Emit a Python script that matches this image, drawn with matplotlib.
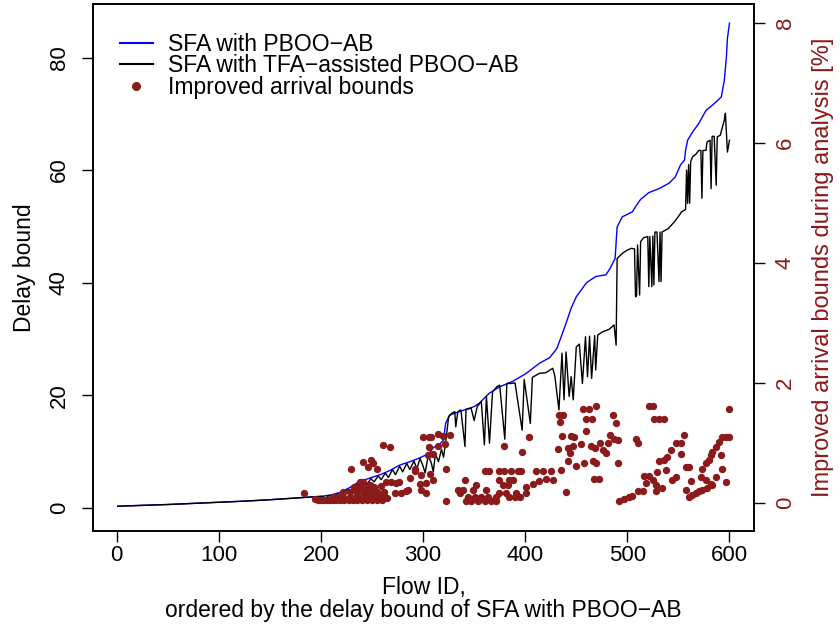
import matplotlib
matplotlib.use("Agg")
import matplotlib.pyplot as plt
from matplotlib.lines import Line2D

plt.rcParams['font.family'] = ['Liberation Sans', 'DejaVu Sans']

RED = '#8B1A1A'

# ==== DATA ====
# SFA with PBOO-AB (sorted delay bound)
blue_x = [1, 25, 50, 75, 100, 125, 150, 175, 200, 210, 218, 228, 238, 248, 258,
          267, 277, 287, 297, 306, 310, 316, 320, 322, 326, 334, 342, 350, 355,
          360, 365, 375, 388, 401, 414, 424, 431, 440, 445, 450, 460, 469, 479,
          483, 488, 490, 495, 505, 508, 513, 521, 531, 541, 547, 552, 556, 557,
          559, 564, 570, 577, 585, 592, 595, 597, 598, 600]
blue_y = [0.3, 0.45, 0.6, 0.8, 1.0, 1.2, 1.45, 1.75, 2.05, 2.3, 2.7, 3.6, 4.7,
          5.3, 5.9, 6.6, 7.6, 8.2, 8.9, 9.7, 10.7, 11.3, 12.0, 15.0, 16.5, 17.0,
          17.5, 18.0, 18.6, 19.5, 20.4, 21.5, 22.5, 23.9, 25.7, 26.7, 28.3, 32.8,
          35.5, 37.5, 40.0, 41.1, 41.4, 42.5, 44.3, 49.9, 51.7, 52.6, 53.5, 54.8,
          56.0, 56.7, 57.7, 58.8, 60.9, 61.8, 63.5, 65.3, 66.8, 68.3, 70.6, 71.8,
          73.0, 76.0, 80.1, 83.4, 86.1]

# SFA with TFA-assisted PBOO-AB, (flow, delay bound)
black = [(1, 0.3), (25, 0.45), (50, 0.6), (75, 0.8), (100, 1.0), (125, 1.2),
         (150, 1.45), (175, 1.75), (200, 2.05), (205, 1.8), (208, 2.2), (212, 1.9),
         (216, 2.6), (220, 2.2), (224, 3.0), (228, 3.3), (231, 2.6), (235, 4.2),
         (238, 3.6), (242, 4.8), (245, 4.2), (249, 5.2), (252, 4.6), (256, 5.7),
         (259, 5.0), (263, 6.2), (266, 5.4), (270, 6.8), (273, 5.9), (277, 7.4),
         (280, 6.4), (284, 7.9), (287, 6.8), (291, 8.3), (294, 7.0), (297, 8.8),
         (300, 7.4), (302, 6.2), (305, 9.3), (308, 8.0), (310, 6.4), (312, 9.6),
         (315, 8.2), (318, 10.4), (320, 9.0), (322, 11.5), (325, 16.2), (328, 16.8),
         (331, 17.1), (332, 14.4), (334, 17.1), (337, 17.4), (341, 10.9), (342, 17.5),
         (347, 17.7), (350, 15.5), (353, 18.0), (357, 18.9), (360, 11.2), (362, 19.8),
         (365, 11.5), (368, 20.6), (372, 21.5), (375, 21.8), (380, 12.2), (382, 22.1),
         (386, 22.1), (390, 22.2), (397, 13.8), (399, 22.8), (405, 15.0), (407, 23.2),
         (414, 23.9), (420, 24.0), (427, 24.8), (429, 23.4), (433, 17.4), (436, 27.5),
         (438, 19.2), (440, 27.7), (443, 19.8), (445, 23.3), (447, 19.2), (450, 28.6),
         (453, 29.1), (456, 22.1), (459, 30.4), (461, 23.3), (463, 30.5), (465, 23.0),
         (468, 30.6), (469, 24.5), (471, 30.7), (476, 31.3), (482, 31.7), (487, 32.5),
         (489, 28.9), (490, 44.3), (495, 45.2), (500, 45.8), (504, 46.1), (507, 46.0),
         (508, 37.5), (509, 37.7), (510, 46.7), (512, 37.8), (513, 47.3), (516, 48.0),
         (520, 48.2), (521, 39.3), (522, 48.2), (524, 39.3), (525, 48.3), (526, 39.6),
         (527, 49.0), (529, 49.0), (531, 40.2), (532, 49.0), (533, 40.2), (534, 49.0),
         (536, 49.2), (540, 49.6), (546, 50.8), (551, 52.0), (553, 52.6), (557, 53.0),
         (558, 60.0), (559, 54.1), (560, 61.0), (561, 54.1), (562, 61.5), (564, 62.4),
         (567, 62.8), (570, 63.5), (572, 63.5), (573, 55.0), (574, 63.5), (577, 63.5),
         (578, 65.0), (581, 65.3), (582, 56.7), (583, 66.0), (585, 66.0), (587, 57.3),
         (588, 65.9), (591, 66.2), (595, 68.9), (596, 70.1), (598, 63.2), (600, 65.3)]

# Improved arrival bounds during analysis [%], (flow, percent)
points = [
    (183, 0.17), (194, 0.06),
    (197, 0.04), (200, 0.04), (203, 0.04), (206, 0.04), (209, 0.04), (212, 0.04),
    (215, 0.04), (219, 0.04), (223, 0.04), (227, 0.04), (231, 0.04), (235, 0.04),
    (240, 0.04), (245, 0.04), (250, 0.04), (255, 0.04), (260, 0.04), (265, 0.08),
    (212, 0.10), (217, 0.10), (222, 0.10), (228, 0.10), (234, 0.10), (240, 0.10),
    (246, 0.10), (252, 0.10), (258, 0.10), (263, 0.10),
    (222, 0.18), (228, 0.18), (235, 0.18), (242, 0.18), (248, 0.18), (255, 0.18),
    (262, 0.18), (232, 0.26), (238, 0.26), (245, 0.26), (252, 0.26),
    (238, 0.35), (241, 0.35), (247.8, 0.29), (259.1, 0.28), (264, 0.35), (269, 0.35),
    (273, 0.33), (276, 0.34),
    (229, 0.56), (241, 0.68), (249, 0.72), (251, 0.66), (246, 0.60), (255, 0.56),
    (261, 0.96), (268, 0.93), (272, 0.17), (278.7, 0.17), (285, 0.21), (287, 0.41),
    (300, 1.09), (306, 1.09), (306, 0.93), (297, 0.32), (303, 0.17), (292, 0.53),
    (283.6, 0.20), (291.8, 0.57), (298.2, 0.46), (303.1, 0.33), (306.3, 0.48),
    (304.7, 0.79), (298.2, 0.21),
    (308.0, 1.09), (314.6, 1.15), (319.4, 1.11), (326.0, 1.13),
    (314.6, 0.95), (321.1, 0.98), (309.7, 0.81),
    (322.7, 0.56), (309.7, 0.38), (322.7, 0.03),
    (360.2, 0.53), (365, 0.53), (374.8, 0.53), (379.7, 0.53), (386.2, 0.53),
    (392.7, 0.53), (396, 0.53),
    (340.6, 0.38), (374.8, 0.38), (384.6, 0.38), (387.8, 0.38),
    (352, 0.30), (378, 0.30), (383, 0.30),
    (334, 0.21), (339, 0.21), (348.8, 0.21), (361.8, 0.21),
    (335.7, 0.16), (374.8, 0.16), (381.3, 0.16), (391.1, 0.16), (400.9, 0.16),
    (343.9, 0.10), (350.4, 0.10), (356.9, 0.10), (363.4, 0.10), (371.6, 0.10),
    (384.6, 0.10), (389.5, 0.10), (394.4, 0.10),
    (342.2, 0.03), (347.1, 0.03), (353.6, 0.03), (360.2, 0.03), (366.7, 0.03),
    (371.6, 0.03),
    (379.7, 0.95), (397, 0.85), (404.1, 1.10),
    (400.9, 0.27), (407.4, 0.32), (413.9, 0.37), (420.4, 0.39), (426.9, 0.38),
    (410.7, 0.53), (417.2, 0.53), (425.3, 0.53), (435.1, 0.55), (440, 0.18),
    (432.8, 1.46), (437.4, 1.46), (434, 1.35), (456.2, 1.56), (462.8, 1.56),
    (469.3, 1.62), (459.5, 1.39), (465.4, 1.39), (459.5, 1.19), (436, 1.12),
    (444.9, 1.12), (448, 1.10),
    (431.8, 0.89), (441.6, 0.91), (446.5, 0.95), (454.6, 0.98), (443.9, 0.83),
    (464.4, 0.94), (468.6, 0.92), (473.5, 0.99), (475.8, 0.88), (480.7, 0.99),
    (483, 1.13), (487.2, 1.07), (490.5, 1.05),
    (469.3, 0.66), (479, 0.83), (485.6, 1.46), (488.8, 1.33), (449.7, 0.61),
    (457.9, 0.67), (466.0, 0.70), (441.6, 0.70), (490.5, 0.66), (467.7, 0.39),
    (472.5, 0.39),
    (492, 0.03), (497, 0.07), (502, 0.10), (505, 0.11), (510, 0.20), (515, 0.20),
    (508, 1.06), (510, 1.00),
    (521.4, 1.61), (524.7, 1.61), (526, 1.39), (531, 1.39), (536, 1.39),
    (516.5, 0.45), (521.4, 0.45), (524.7, 0.38), (518, 0.33), (528, 0.30),
    (528, 0.20), (534.4, 0.24),
    (531.2, 0.70), (536.1, 0.72), (539.3, 0.76), (542.6, 0.88), (547.5, 0.99),
    (552.3, 1.00), (555.6, 1.13), (552.3, 0.82),
    (537.7, 0.55), (529.5, 0.52), (544.2, 0.38), (547.5, 0.43), (557.9, 0.60),
    (560.5, 0.59), (562.1, 0.37), (557.2, 0.22),
    (560.5, 0.10), (563.7, 0.13), (567, 0.16), (570.3, 0.19), (573.5, 0.21),
    (578.4, 0.24), (583.3, 0.30),
    (573.5, 0.57), (576.8, 0.67), (580, 0.71), (581.7, 0.80), (583.3, 0.84),
    (586.5, 0.93), (589.8, 1.02), (593.1, 1.10), (596.3, 1.09), (599.6, 1.09),
    (591.4, 0.80), (593.1, 0.57), (596.3, 0.35), (586.5, 0.43), (599.6, 1.57),
    (571.9, 0.43), (576.8, 0.38), (581.7, 0.32)]

legend_labels = ['SFA with PBOO\u2212AB', 'SFA with TFA\u2212assisted PBOO\u2212AB',
                 'Improved arrival bounds']

black_x = [p[0] for p in black]
black_y = [p[1] for p in black]
pts_x = [p[0] for p in points]
pts_y = [p[1] for p in points]

# ==== FIGURE ====
fig = plt.figure(figsize=(8.4, 6.28), dpi=100)
ax = fig.add_axes([0.111, 0.1545, 0.7866, 0.8391])

ax.plot(blue_x, blue_y, color='blue', lw=1)
ax.plot(black_x, black_y, color='black', lw=1)
ax.set_xlim(-23, 624)
ax.set_ylim(-4.1, 89.5)
ax.set_xticks([0, 100, 200, 300, 400, 500, 600])
ax.set_yticks([0, 20, 40, 60, 80])
ax.tick_params(axis='x', direction='out', length=8, width=1, labelsize=16, pad=2)
ax.tick_params(axis='y', direction='out', length=8, width=1, labelsize=16, pad=9)
for lab in ax.get_yticklabels():
    lab.set_rotation(90)
    lab.set_va('center')
ax.set_xlabel('Flow ID,\nordered by the delay bound of SFA with PBOO\u2212AB',
              fontsize=16.5, labelpad=7, linespacing=1.05)
ax.set_ylabel('Delay bound', fontsize=16.5, labelpad=9)

ax2 = ax.twinx()
ax2.scatter(pts_x, pts_y, s=28, color=RED, lw=0)
ax2.set_ylim(-0.47, 8.31)
ax2.set_yticks([0, 2, 4, 6, 8])
ax2.tick_params(direction='out', length=8, width=1, labelsize=16, pad=7,
                labelcolor=RED)
for lab in ax2.get_yticklabels():
    lab.set_rotation(90)
    lab.set_va('center')
ax2.set_ylabel('Improved arrival bounds during analysis [%]', fontsize=17,
               color=RED, labelpad=12)

for a in (ax, ax2):
    for s in a.spines.values():
        s.set_linewidth(1.2)

handles = [Line2D([], [], color='blue', lw=1.5),
           Line2D([], [], color='black', lw=1.5),
           Line2D([], [], color=RED, lw=0, marker='o', markersize=5.5)]
ax2.legend(handles, legend_labels, loc='upper left', frameon=False, fontsize=16.5,
           bbox_to_anchor=(0.129, 0.966), bbox_transform=fig.transFigure,
           handlelength=1.44, handletextpad=0.65, labelspacing=-0.07, borderpad=0)

fig.savefig('out.png', dpi=100)
